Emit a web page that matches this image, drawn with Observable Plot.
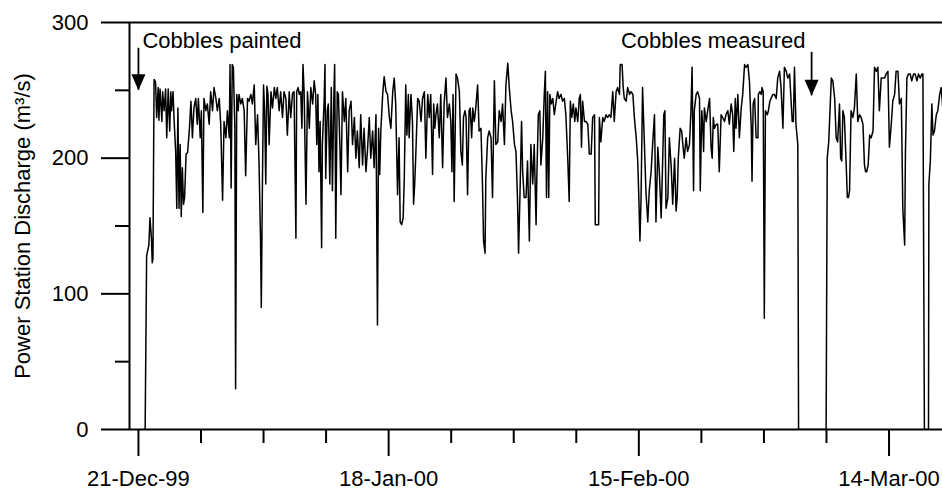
<!DOCTYPE html>
<html><head><meta charset="utf-8">
<script src="https://cdn.jsdelivr.net/npm/d3@7"></script>
<script src="https://cdn.jsdelivr.net/npm/@observablehq/plot@0.6"></script>
<style>html,body{margin:0;padding:0;background:#fff;} #chart svg{display:block}</style>
</head><body><div id="chart"></div>
<script>
// Hours since 20-Dec-1999 00:00 and power station discharge (m3/s)
const hours = [
42,46,52,55,59,61,63,66,70,73,77,79,82,87,89,93,97,100,104,108,111,113,117,120,124,127,130,133,136,139,142,145,148,152,156,161,165,169,173,178,182,185,190,193,197,200,205,209,214,218,223,227,232,236,241,245,250,254,259,263,268,270,273,276,279,283,285,288,292,294,299,303,308,312,317,321,
326,330,335,339,344,348,352,354,357,360,363,366,369,372,375,380,384,389,393,397,402,406,411,415,420,424,429,433,438,442,447,449,453,456,460,463,466,469,474,478,483,487,492,496,500,503,506,509,512,516,518,523,525,527,531,534,538,542,545,549,551,552,554,558,561,565,568,572,577,581,586,590,595,599,604,608,612,617,621,626,630,635,639,644,648,653,657,662,666,669,672,675,680,684,
689,693,698,702,707,711,715,720,724,727,731,735,738,742,745,749,751,756,760,763,766,769,774,778,783,787,792,796,801,805,809,814,817,820,823,827,832,836,841,845,850,854,859,863,866,869,872,877,881,886,890,894,897,901,904,908,912,915,919,922,926,930,935,939,944,948,951,955,957,962,966,971,975,980,984,989,993,998,1002,1007,1011,1016,1020,1025,1029,1034,1038,1042,1045,1049,
1053,1056,1060,1065,1069,1074,1078,1083,1087,1092,1094,1098,1102,1105,1110,1114,1117,1120,1123,1126,1129,1133,1137,1141,1146,1150,1154,1159,1163,1168,1172,1177,1181,1184,1188,1192,1196,1199,1204,1208,1211,1214,1217,1222,1226,1231,1235,1240,1244,1249,1251,1256,1260,1262,1266,1271,1275,1280,1284,1289,1293,1298,1302,1307,1311,1316,1318,1323,1326,1329,1334,1338,1343,1347,1352,1356,1361,1365,1368,1371,1374,1378,1383,1387,1392,1396,1401,1405,1410,
1414,1419,1423,1428,1432,1435,1438,1441,1446,1450,1455,1459,1464,1468,1471,1474,1479,1483,1488,1490,1495,1499,1504,1508,1511,1515,1517,1522,1526,1531,1533,1537,1540,1542,1544,1549,1553,1558,1562,1565,1568,1571,1576,1580,1584,1589,1593,1598,1602,1607,1611,1616,1620,1623,1627,1629,1634,1638,1643,1647,1652,1656,1661,1665,1670,1672,1675,1679,1683,1688,1689,1693,1697,1699,1702,1705,1708,1713,1716,1720,1723,1728,1732,1737,1741,1746,1750,1755,1759,1764,1768,1773,
1780,1783,1786,1790,1795,1797,1871,1874,1878,1885,1889,1894,1898,1902,1907,1910,1913,1916,1920,1925,1928,1931,1934,1938,1943,1947,1952,1956,1961,1965,1970,1974,1977,1980,1984,1988,1992,1997,2001,2006,2010,2014,2019,2023,2028,2032,2037,2041,2046,2050,2055,2059,2064,2068,2073,2077,2082,2084,2088,2092,2097,2101,2106,2110,2115,2119,2124,2128,2131,2135,2146,2147,2151,2155,2158,2162,2167,2171,2176,2180,2185
];
const discharge = [
0,128,136,156,141,123,126,258,256,230,252,228,251,227,249,235,251,215,251,220,249,235,249,227,205,163,237,163,210,157,193,166,171,203,204,222,242,215,237,244,225,244,215,235,160,244,235,240,225,249,235,252,244,235,244,225,169,227,215,235,215,269,178,269,267,222,30,247,235,247,240,244,235,187,244,242,
247,240,254,210,232,195,139,90,181,254,235,181,253,247,210,249,237,252,244,252,235,249,230,249,244,217,249,230,248,249,141,249,252,247,249,222,269,249,166,249,222,252,240,257,247,210,247,190,227,134,210,244,269,185,235,240,181,252,176,247,269,235,141,249,247,210,173,249,227,244,190,235,242,210,230,200,220,193,232,195,222,190,205,230,200,220,193,232,77,222,188,220,247,260,
249,247,230,222,249,259,240,173,215,153,151,156,185,254,217,247,215,247,227,166,181,203,244,242,227,244,249,200,247,230,247,188,240,222,232,240,215,247,193,240,259,230,240,227,190,247,168,262,259,249,205,195,230,235,230,173,235,237,215,237,227,237,254,220,222,181,139,130,185,215,220,215,171,257,210,212,235,227,240,210,254,270,252,235,227,210,205,171,130,176,
227,190,171,171,198,139,210,181,210,151,185,232,235,195,215,247,264,171,249,171,247,240,244,232,242,249,244,247,242,244,232,200,168,242,230,240,227,237,227,244,247,208,242,227,227,225,203,203,230,232,151,151,151,230,212,230,227,232,230,232,230,249,227,249,252,247,269,269,252,244,242,252,247,249,247,230,215,198,171,139,171,252,210,176,153,176,190,210,232,
153,208,190,156,198,232,235,163,171,215,193,166,200,161,171,200,222,220,205,200,215,205,210,235,267,176,235,247,249,244,176,235,222,205,237,227,235,244,208,200,230,222,225,225,190,232,230,227,232,235,225,240,232,205,244,222,247,215,237,247,269,267,269,257,222,183,240,244,215,215,247,249,247,252,249,82,235,232,235,242,244,247,247,244,259,264,252,222,267,264,259,262,
227,227,267,225,210,0,0,200,212,259,257,244,215,212,240,200,198,235,230,195,171,171,176,235,230,237,262,227,232,230,225,195,190,190,195,217,215,220,267,264,267,235,259,259,259,262,264,208,225,242,247,264,264,240,244,163,136,203,259,262,262,257,262,262,257,262,259,262,262,0,0,181,198,240,217,220,232,235,247,252,235
];
const yMajorTicks = [0, 100, 200, 300];
const yMinorTicks = [50, 150, 250];
const xMajorTicks = ["1999-12-21", "2000-01-18", "2000-02-15", "2000-03-14"];
const xMinorTicks = ["1999-12-28", "2000-01-04", "2000-01-11", "2000-01-25", "2000-02-01", "2000-02-08", "2000-02-22", "2000-02-29", "2000-03-07"];
const xDomain = ["1999-12-20T00:00Z", "2000-03-19T23:36Z"];
const annotationLabels = ["Cobbles painted", "Cobbles measured"];
const annotationDates = ["1999-12-21T00:00Z", "2000-03-05T08:00Z"];
const arrowTop = [281, 278];
const arrowTip = [250, 246];
const labelY = [281, 281];
const yTitle = "Power Station Discharge (m\u00b3/s)";

const t0 = Date.UTC(1999, 11, 20);
const series = hours.map((h, i) => ({t: new Date(t0 + h * 3600e3), v: discharge[i]}));
const ann = annotationLabels.map((label, i) => ({label, t: new Date(annotationDates[i]), top: arrowTop[i], tip: arrowTip[i], ly: labelY[i]}));
const xd = xDomain.map(d => new Date(d));

const arrowHead = {
  draw(ctx) { ctx.moveTo(-7, -16); ctx.lineTo(7, -16); ctx.lineTo(0, 0); ctx.closePath(); }
};

const chart = Plot.plot({
  width: 942, height: 491,
  marginLeft: 129, marginRight: 0, marginTop: 22, marginBottom: 62,
  style: {fontFamily: "'Liberation Sans', Arial, Helvetica, sans-serif", fontSize: "22px", color: "black", background: "white"},
  x: {type: "utc", domain: xd},
  y: {domain: [0, 300]},
  marks: [
    Plot.line(series, {x: "t", y: "v", stroke: "black", strokeWidth: 1.5, clip: true}),
    Plot.ruleY([300], {stroke: "black", strokeWidth: 2}),
    Plot.ruleY([0], {stroke: "black", strokeWidth: 2}),
    Plot.ruleX([xd[0]], {stroke: "black", strokeWidth: 2}),
    Plot.axisY({ticks: yMajorTicks, tickSize: 28, tickPadding: 13, strokeWidth: 2, label: null, fontSize: 22}),
    Plot.axisY({ticks: yMinorTicks, tickSize: 14, tickFormat: () => "", strokeWidth: 2, label: null}),
    Plot.axisX({ticks: xMajorTicks.map(d => new Date(d)), tickSize: 27, tickPadding: 14, tickFormat: d3.utcFormat("%d-%b-%y"), strokeWidth: 2, label: null, fontSize: 22}),
    Plot.axisX({ticks: xMinorTicks.map(d => new Date(d)), tickSize: 14, tickFormat: () => "", strokeWidth: 2, label: null}),
    Plot.text([yTitle], {text: d => d, frameAnchor: "left", textAnchor: "middle", rotate: -90, dx: -107, fontSize: 22, fill: "black"}),
    Plot.ruleX(ann, {x: "t", y1: "top", y2: "tip", stroke: "black", strokeWidth: 1.8}),
    Plot.dot(ann, {x: "t", y: "tip", symbol: arrowHead, fill: "black", stroke: "none", r: 5}),
    Plot.text(ann.slice(0, 1), {x: "t", y: "ly", text: "label", textAnchor: "start", lineAnchor: "bottom", dx: 4, fontSize: 22, fill: "black"}),
    Plot.text(ann.slice(1), {x: "t", y: "ly", text: "label", textAnchor: "end", lineAnchor: "bottom", dx: -6, fontSize: 22, fill: "black"})
  ]
});
document.getElementById("chart").append(chart);
</script>
</body></html>
